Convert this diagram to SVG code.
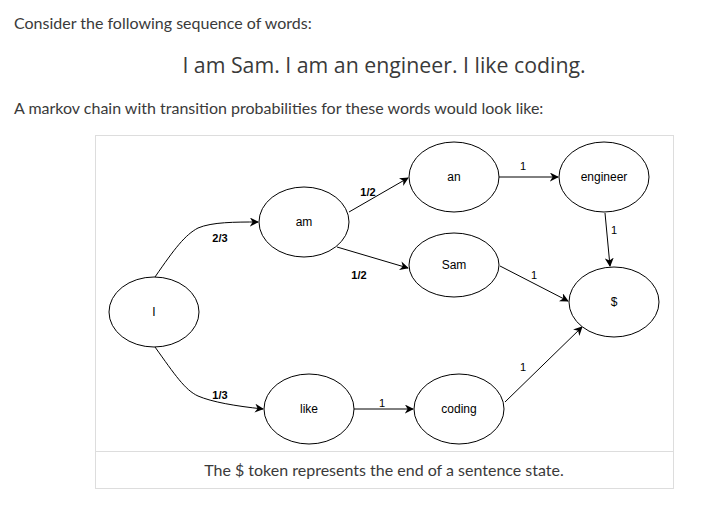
<svg xmlns="http://www.w3.org/2000/svg" width="715" height="508" viewBox="0 0 715 508">
<style>
.hdr{font-family:Lato,"Noto Sans",sans-serif;font-size:16px;fill:#3a3a3a}
.big{font-family:"Open Sans",Lato,sans-serif;font-size:21.3px;fill:#3a3a3a}
.nd ellipse{fill:#fff;stroke:#000;stroke-width:1}
.nd text{font-family:"Liberation Sans",Arial,sans-serif;font-size:12px;fill:#000;text-anchor:middle}
.ed path{fill:none;stroke:#000;stroke-width:1}
.lb{font-family:"Liberation Sans",Arial,sans-serif;font-size:11px;font-weight:bold;fill:#000;text-anchor:middle}
.lbn{font-family:"Liberation Sans",Arial,sans-serif;font-size:11px;fill:#000;text-anchor:middle}
</style>
<defs>
<marker id="ah" viewBox="0 0 10 10" refX="9" refY="5" markerWidth="9" markerHeight="9" markerUnits="userSpaceOnUse" orient="auto">
<path d="M0,0 L10,5 L0,10 L3,5 Z" fill="#000"/>
</marker>
</defs>
<rect width="715" height="508" fill="#fff"/>
<text class="hdr" x="14" y="29">Consider the following sequence of words:</text>
<text class="big" x="384" y="73" text-anchor="middle">I am Sam. I am an engineer. I like coding.</text>
<text class="hdr" x="14" y="114">A markov chain with transition probabilities for these words would look like:</text>
<rect x="95.5" y="135.5" width="578" height="353" fill="#fff" stroke="#ddd"/>
<line x1="96" y1="451.5" x2="673" y2="451.5" stroke="#ddd"/>
<text class="hdr" x="384" y="476" text-anchor="middle">The $ token represents the end of a sentence state.</text>
<g class="ed" id="connectors">
<path d="M155,277 C175,248 185,235 198,228 C212,222 235,222 258,222" marker-end="url(#ah)"/>
<path d="M155,347 C175,375 185,390 198,396 C212,402 235,406 263,409" marker-end="url(#ah)"/>
<path d="M349,212 L408,178" marker-end="url(#ah)"/>
<path d="M337,247 L408,268" marker-end="url(#ah)"/>
<path d="M499,177 L558,177" marker-end="url(#ah)"/>
<path d="M605,213 L610,266" marker-end="url(#ah)"/>
<path d="M500,266 L568,301" marker-end="url(#ah)"/>
<path d="M354,409 L413,409" marker-end="url(#ah)"/>
<path d="M505,402 L582,327" marker-end="url(#ah)"/>
<text class="lb" x="220" y="242">2/3</text>
<text class="lb" x="220" y="399">1/3</text>
<text class="lb" x="368" y="196">1/2</text>
<text class="lb" x="359" y="279">1/2</text>
<text class="lbn" x="523" y="170">1</text>
<text class="lbn" x="614" y="234">1</text>
<text class="lbn" x="534" y="279">1</text>
<text class="lbn" x="382" y="407">1</text>
<text class="lbn" x="523" y="371">1</text>
</g>
<g class="nd" id="n-I"><ellipse cx="154" cy="312" rx="45" ry="35"/><text x="154" y="316">I</text></g>
<g class="nd" id="n-am"><ellipse cx="304" cy="222" rx="45" ry="35"/><text x="304" y="226">am</text></g>
<g class="nd" id="n-an"><ellipse cx="454" cy="177" rx="45" ry="35"/><text x="454" y="181">an</text></g>
<g class="nd" id="n-engineer"><ellipse cx="604" cy="177" rx="45" ry="35"/><text x="604" y="181">engineer</text></g>
<g class="nd" id="n-Sam"><ellipse cx="454" cy="265" rx="45" ry="32"/><text x="454" y="269">Sam</text></g>
<g class="nd" id="n-end"><ellipse cx="614" cy="302" rx="45" ry="35"/><text x="614" y="306">$</text></g>
<g class="nd" id="n-like"><ellipse cx="309" cy="409" rx="45" ry="35"/><text x="309" y="413">like</text></g>
<g class="nd" id="n-coding"><ellipse cx="459" cy="409" rx="45" ry="35"/><text x="459" y="413">coding</text></g>
</svg>
